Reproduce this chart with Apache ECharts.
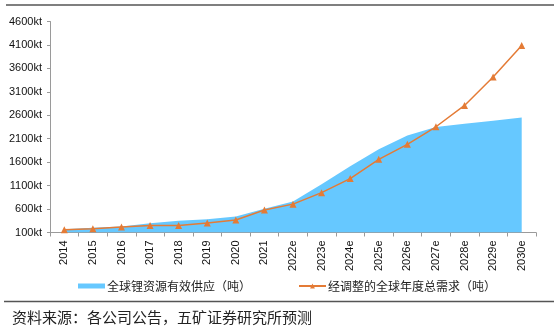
<!DOCTYPE html>
<html>
<head>
<meta charset="utf-8">
<script src="https://cdn.jsdelivr.net/npm/echarts@6/dist/echarts.min.js"></script>
<style>
html,body{margin:0;padding:0;background:#fff;}
#c{width:554px;height:327px;}
</style>
</head>
<body>
<div id="c"></div>
<script>
const categories = ['2014','2015','2016','2017','2018','2019','2020','2021','2022e','2023e','2024e','2025e','2026e','2027e','2028e','2029e','2030e'];
const supply = [170, 200, 230, 298, 350, 385, 440, 605, 760, 1130, 1515, 1876, 2170, 2350, 2420, 2485, 2550];
const demand = [160, 180, 215, 250, 250, 305, 365, 580, 705, 950, 1250, 1660, 1980, 2355, 2810, 3415, 4090];
const yTicks = [100, 600, 1100, 1600, 2100, 2600, 3100, 3600, 4100, 4600];
const supplyName = '全球锂资源有效供应（吨）';
const demandName = '经调整的全球年度总需求（吨）';
const sourceText = '资料来源：各公司公告，五矿证券研究所预测';

const chart = echarts.init(document.getElementById('c'), null, {renderer: 'canvas'});
const cjk = '"Noto Sans CJK SC", "Noto Sans", sans-serif';
const latin = '"Liberation Sans", Arial, sans-serif';

chart.setOption({
  animation: false,
  backgroundColor: '#fff',
  grid: {left: 50, right: 18, top: 21.5, height: 211, containLabel: false},
  legend: [
    {
      data: [{name: supplyName, icon: 'rect'}],
      left: 73, top: 275,
      itemWidth: 27, itemHeight: 5, itemGap: 0,
      textStyle: {fontFamily: cjk, fontSize: 12, color: '#222', padding: [0,0,0,-3]},
      selectedMode: false
    },
    {
      data: [{name: demandName}],
      left: 293, top: 275,
      itemWidth: 27, itemHeight: 6, itemGap: 0,
      textStyle: {fontFamily: cjk, fontSize: 12, color: '#222', padding: [0,0,0,-3]},
      selectedMode: false
    }
  ],
  xAxis: {
    type: 'category',
    data: categories,
    boundaryGap: true,
    axisLine: {lineStyle: {color: '#9a9a9a', width: 1}},
    axisTick: {show: true, alignWithLabel: false, length: 4, lineStyle: {color: '#9a9a9a'}},
    axisLabel: {rotate: 90, margin: 8, fontFamily: latin, fontSize: 11, color: '#111', interval: 0},
    splitLine: {show: false}
  },
  yAxis: {
    type: 'value',
    min: 100, max: 4600,
    axisLine: {show: true, lineStyle: {color: '#9a9a9a', width: 1}},
    axisTick: {show: true, length: 3, lineStyle: {color: '#9a9a9a'}, customValues: yTicks},
    axisLabel: {fontFamily: latin, fontSize: 11, color: '#111', margin: 8, customValues: yTicks,
      formatter: v => v + 'kt'},
    splitLine: {show: false}
  },
  series: [
    {
      name: supplyName,
      type: 'line',
      data: supply,
      symbol: 'none',
      lineStyle: {width: 0},
      itemStyle: {color: '#66C8FF'},
      areaStyle: {color: '#66C8FF', opacity: 1},
      z: 1
    },
    {
      name: demandName,
      type: 'line',
      data: demand,
      symbol: 'triangle',
      symbolSize: 7,
      lineStyle: {width: 1.5, color: '#E47B36'},
      itemStyle: {color: '#E47B36'},
      z: 3
    }
  ],
  graphic: [
    {type: 'line', shape: {x1: 6, y1: 5, x2: 554, y2: 5}, style: {stroke: '#555', lineWidth: 1.5}},
    {type: 'line', shape: {x1: 4, y1: 301.5, x2: 554, y2: 301.5}, style: {stroke: '#555', lineWidth: 1.5}},
    {type: 'text', left: 12, top: 310, style: {text: sourceText, fontFamily: cjk, fontSize: 15, fill: '#222'}}
  ]
});
</script>
</body>
</html>
